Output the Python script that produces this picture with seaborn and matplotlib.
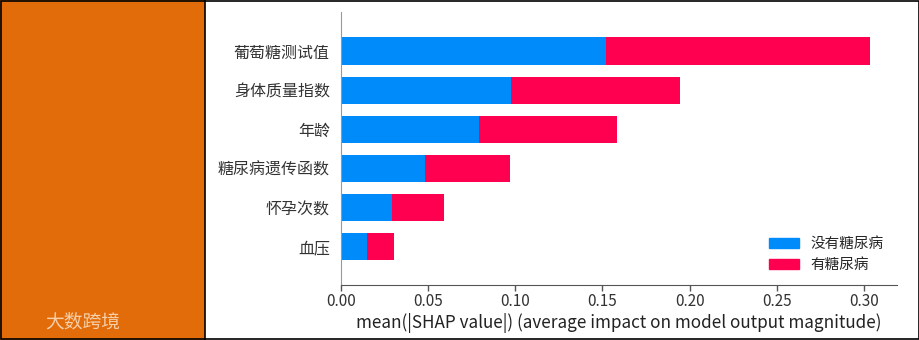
import matplotlib
matplotlib.use("Agg")
import matplotlib.pyplot as plt
import matplotlib.patches as mpatches
import seaborn as sns
import pandas as pd

features = ["葡萄糖测试值", "身体质量指数", "年龄", "糖尿病遗传函数", "怀孕次数", "血压"]
no_diabetes = [0.152, 0.0974, 0.0792, 0.0484, 0.0294, 0.0151]
diabetes = [0.1515, 0.0972, 0.0794, 0.0486, 0.0297, 0.0153]
class_labels = ["没有糖尿病", "有糖尿病"]
xticks = [0.00, 0.05, 0.10, 0.15, 0.20, 0.25, 0.30]
xlabel = "mean(|SHAP value|) (average impact on model output magnitude)"
logo_text = "大数跨境"

BLUE = "#008bfb"
RED = "#ff0051"

sns.set_style("white")
plt.rcParams["font.family"] = ["Noto Sans CJK SC", "DejaVu Sans"]

df = pd.DataFrame({
    "feature": features,
    "blue": no_diabetes,
    "total": [a + b for a, b in zip(no_diabetes, diabetes)],
})

fig = plt.figure(figsize=(9.2, 3.4), dpi=100)
ax = fig.add_axes([341 / 920, 1 - 285 / 340, (897 - 341) / 920, (285 - 12) / 340])

sns.barplot(data=df, x="total", y="feature", color=RED, width=0.7,
            orient="h", ax=ax, saturation=1, edgecolor="none")
sns.barplot(data=df, x="blue", y="feature", color=BLUE, width=0.7,
            orient="h", ax=ax, saturation=1, edgecolor="none")

ax.set_xlim(0, 0.319)
ax.set_ylim(5.98, -1.0)
ax.set_xticks(xticks)
ax.set_xticklabels([f"{t:.2f}" for t in xticks])
ax.set_xlabel(xlabel, fontsize=12.3, color="#222222", labelpad=2)
ax.set_ylabel("")
for s in ["top", "right"]:
    ax.spines[s].set_visible(False)
ax.spines["left"].set_color("#999999")
ax.spines["bottom"].set_color("#555555")
ax.tick_params(axis="y", length=0, labelsize=11.5, labelcolor="#333333", pad=8)
ax.tick_params(axis="x", length=4, width=1, color="#555555", labelsize=11,
               labelcolor="#333333", bottom=True, direction="out", pad=2)

handles = [mpatches.Patch(color=BLUE, label=class_labels[0]),
           mpatches.Patch(color=RED, label=class_labels[1])]
ax.legend(handles=handles, loc="lower right", frameon=False, fontsize=10.5,
          handlelength=2.05, handleheight=0.7, bbox_to_anchor=(1.0, -0.002),
          labelspacing=0.5, handletextpad=0.8)

# left orange panel and frame
fig.patches.append(mpatches.Rectangle((0, 0), 205 / 920, 1, transform=fig.transFigure,
                                      facecolor="#e36c0a", edgecolor="none", zorder=-1))
fig.add_artist(plt.Line2D([205 / 920, 205 / 920], [0, 1], transform=fig.transFigure,
                          color="black", lw=1.2))
fig.patches.append(mpatches.Rectangle((0.001, 0.002), 0.998, 0.995, transform=fig.transFigure,
                                      facecolor="none", edgecolor="black", lw=1.2, zorder=5))
fig.text(45 / 920, 1 - 322 / 340, logo_text, fontsize=13.5, color="#f6cfa8",
         va="center", ha="left")

fig.savefig("out.png", dpi=100)
